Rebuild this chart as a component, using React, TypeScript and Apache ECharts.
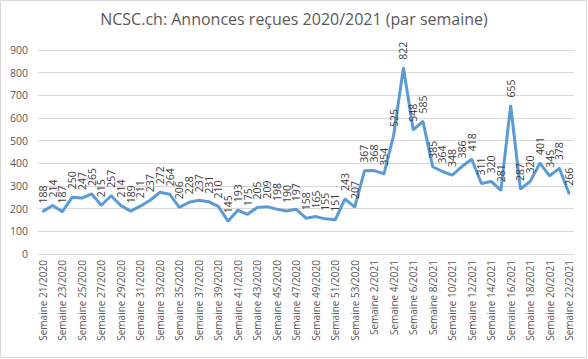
import React, { useEffect, useRef } from "react";
import * as echarts from "echarts";

const weeks2020: number[] = [21,22,23,24,25,26,27,28,29,30,31,32,33,34,35,36,37,38,39,40,41,42,43,44,45,46,47,48,49,50,51,52,53];
const weeks2021: number[] = [1,2,3,4,5,6,7,8,9,10,11,12,13,14,15,16,17,18,19,20,21,22];
const categories: string[] = [
  ...weeks2020.map((w) => `Semaine ${w}/2020`),
  ...weeks2021.map((w) => `Semaine ${w}/2021`),
];
const reports: number[] = [
  188, 214, 187, 250, 247, 265, 215, 257, 214, 189, 211, 237, 272, 264, 206, 228, 237, 231, 210, 145,
  193, 175, 205, 209, 198, 190, 197, 158, 165, 155, 151, 243, 207, 367, 368, 354, 525, 822, 548, 585,
  385, 364, 348, 386, 418, 311, 320, 281, 655, 287, 320, 401, 345, 378, 266,
];
const yTicks = { min: 0, max: 900, interval: 100 };
const title = "NCSC.ch: Annonces reçues 2020/2021 (par semaine)";

const FONT = "'Open Sans', 'Noto Sans', sans-serif";

export default function App() {
  const ref = useRef<HTMLDivElement>(null);
  useEffect(() => {
    if (!ref.current) return;
    const chart = echarts.init(ref.current, undefined, { renderer: "svg" });
    chart.setOption({
      animation: false,
      backgroundColor: "#ffffff",
      title: {
        text: title,
        left: "center",
        top: 6,
        textStyle: { fontFamily: FONT, fontSize: 16, fontWeight: "normal", color: "#595959" },
      },
      graphic: [
        {
          type: "rect",
          shape: { x: 0.5, y: 0.5, width: 586, height: 357 },
          style: { fill: "none", stroke: "#d9d9d9", lineWidth: 1 },
          silent: true,
        },
      ],
      grid: { left: 38, right: 14, top: 50, bottom: 105 },
      xAxis: {
        type: "category",
        data: categories,
        boundaryGap: true,
        axisLine: { lineStyle: { color: "#d9d9d9" } },
        axisTick: { show: false },
        axisLabel: {
          interval: 1,
          rotate: 90,
          fontFamily: FONT,
          fontSize: 10,
          color: "#595959",
          margin: 6,
        },
      },
      yAxis: {
        type: "value",
        min: yTicks.min,
        max: yTicks.max,
        interval: yTicks.interval,
        axisLine: { show: false },
        axisTick: { show: false },
        splitLine: { lineStyle: { color: "#d9d9d9" } },
        axisLabel: { fontFamily: FONT, fontSize: 10.5, color: "#595959", margin: 10 },
      },
      series: [
        {
          type: "line",
          data: reports,
          showSymbol: true,
          showAllSymbol: true,
          symbol: "circle",
          symbolSize: 2,
          lineStyle: { color: "#5B9BD5", width: 3 },
          itemStyle: { color: "#5B9BD5" },
          label: {
            show: true,
            position: "top",
            rotate: 90,
            align: "left",
            verticalAlign: "middle",
            distance: 7,
            fontFamily: FONT,
            fontSize: 10.5,
            color: "#404040",
          },
          labelLayout: { hideOverlap: false },
        },
      ],
    });
    return () => chart.dispose();
  }, []);
  return <div ref={ref} style={{ width: 588, height: 359, position: "absolute", left: 0, top: 0 }} />;
}
